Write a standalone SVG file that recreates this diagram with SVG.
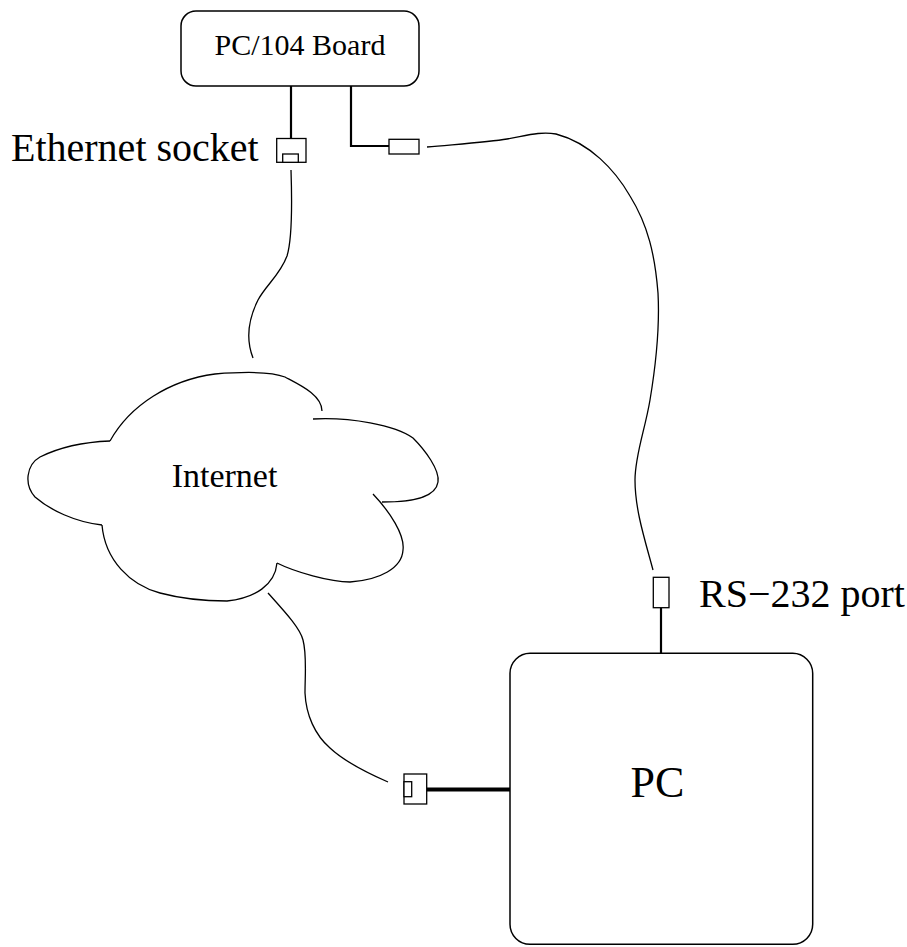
<svg xmlns="http://www.w3.org/2000/svg" width="907" height="947" viewBox="0 0 907 947">
<style>
.box{fill:#fff;stroke:#000;stroke-width:1.5}
.port{fill:#fff;stroke:#000;stroke-width:1.3}
.wire{fill:none;stroke:#000;stroke-width:2.2}
.thick{fill:none;stroke:#000;stroke-width:4}
.cable{fill:none;stroke:#000;stroke-width:1.3}
.t{font-family:"Liberation Serif","Times New Roman",serif;fill:#000}
</style>
<rect width="907" height="947" fill="#fff"/>
<g id="connectors">
<path class="wire" d="M291,86 V139"/>
<path class="wire" d="M351,86 V146 H389"/>
<path class="wire" d="M661,608 V653"/>
<path class="thick" d="M426.7,789.5 H510"/>
<path class="cable" d="M291,170 C292,200 292,240 287,256 C280,275 266,285 258,300 C248,320 246,340 253,358"/>
<path class="cable" d="M427,147 C460,144 490,142 507,139 C525,136 540,131 556,134 C590,143 615,170 630,196 C648,225 655,255 658,293 C660,330 655,370 650,400 C645,430 635,455 635,480 C635,510 645,540 653,570"/>
<path class="cable" d="M268,593 C285,612 300,628 303,640 C307,655 305,675 305,693 C306,715 315,735 330,748 C345,762 365,772 388,782"/>
</g>
<g id="board">
<rect class="box" x="181" y="11" width="238" height="75" rx="15"/>
<text class="t" x="300" y="55" font-size="30" text-anchor="middle">PC/104 Board</text>
</g>
<g id="ethernet-socket">
<rect class="port" x="276.7" y="138.5" width="29.3" height="23.8"/>
<rect class="port" x="282.7" y="154" width="15.6" height="8.3"/>
<text class="t" x="11" y="161" font-size="40">Ethernet socket</text>
</g>
<g id="serial-plug">
<rect class="port" x="389" y="139.3" width="30" height="14.7"/>
</g>
<g id="rs232-port">
<rect class="port" x="653.3" y="577.3" width="15.7" height="30.4"/>
<text class="t" x="699" y="607" font-size="40">RS−232 port</text>
</g>
<g id="internet">
<path class="cable" d="M110,441 C85,442 60,447 40,457 C26,465 24,485 35,497 C50,510 75,522 102,525"/>
<path class="cable" d="M110,441 C130,405 170,380 215,374 C240,372 270,371 285,377 C300,385 322,395 322,411"/>
<path class="cable" d="M313,419 C350,417 395,425 413,438 C425,450 440,470 438,482 C436,495 420,502 382,502"/>
<path class="cable" d="M373,494 C390,512 405,535 403,550 C402,568 380,580 350,582 C330,582 295,572 277,563"/>
<path class="cable" d="M277,563 C275,585 255,598 227,601 C200,601 175,597 160,593 C130,585 105,560 102,525"/>
<text class="t" x="224.5" y="487" font-size="34" text-anchor="middle">Internet</text>
</g>
<g id="pc-ethernet">
<rect class="port" x="404" y="774" width="22.7" height="30"/>
<rect class="port" x="404" y="781.7" width="7.7" height="15"/>
</g>
<g id="pc">
<rect class="box" x="510" y="653.3" width="302.7" height="291" rx="20"/>
<text class="t" x="657.5" y="797" font-size="44" text-anchor="middle">PC</text>
</g>
</svg>
